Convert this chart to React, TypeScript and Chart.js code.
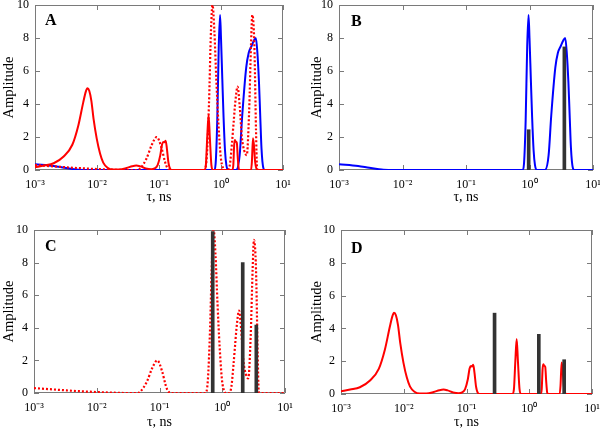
import React, { useEffect, useRef } from 'react';
import { Chart, registerables } from 'chart.js';

Chart.register(...registerables);

const FONT = '"Liberation Serif", "Times New Roman", serif';

// Red solid distribution (panels A, D)
const redSolidTau = [0.001, 0.0014, 0.002, 0.0029, 0.004, 0.005, 0.006, 0.0066, 0.007, 0.0075, 0.0081, 0.0088, 0.0099, 0.0112, 0.0126, 0.0148, 0.018, 0.023, 0.03, 0.037, 0.043, 0.05, 0.061, 0.075, 0.085, 0.095, 0.105, 0.112, 0.118, 0.123, 0.128, 0.134, 0.142, 0.152, 0.165, 0.54, 0.57, 0.6, 0.63, 0.66, 0.7, 0.74, 1.52, 1.58, 1.63, 1.67, 1.73, 1.8, 1.86, 1.93, 2.0, 3.05, 3.15, 3.28, 3.4, 3.55, 3.75, 3.9, 10];
const redSolidAmp = [0.16, 0.27, 0.41, 0.82, 1.53, 2.7, 4.1, 4.75, 4.95, 4.8, 4.2, 3.1, 1.9, 1.0, 0.45, 0.14, 0.03, 0.03, 0.12, 0.23, 0.27, 0.22, 0.1, 0.05, 0.1, 0.3, 0.9, 1.55, 1.7, 1.68, 1.78, 1.3, 0.45, 0.06, 0, 0, 0.3, 2.0, 3.35, 2.0, 0.3, 0, 0, 0.3, 1.5, 1.82, 1.72, 1.65, 0.8, 0.1, 0, 0, 0.5, 1.92, 1.5, 0.5, 0.05, 0, 0];

// Red dotted distribution (panels A, C)
const redDotTau = [0.001, 0.002, 0.0033, 0.006, 0.01, 0.018, 0.03, 0.045, 0.05, 0.063, 0.076, 0.092, 0.11, 0.125, 0.135, 0.15, 0.54, 0.59, 0.64, 0.69, 0.73, 0.78, 0.84, 0.91, 0.99, 1.08, 1.15, 1.3, 1.4, 1.5, 1.6, 1.7, 1.85, 2.0, 2.17, 2.36, 2.6, 2.84, 3.05, 3.2, 3.45, 3.67, 3.8, 3.9, 10];
const redDotAmp = [0.3, 0.22, 0.16, 0.1, 0.06, 0.02, 0, 0, 0.1, 0.7, 1.5, 2.0, 1.33, 0.5, 0.15, 0, 0, 0.8, 4.0, 8.5, 10, 8.5, 5.5, 2.8, 0.8, 0.1, 0, 0, 0.4, 1.6, 2.9, 4.1, 5.05, 3.9, 2.0, 1.2, 0.9, 3.5, 7.6, 9.4, 7.6, 2.4, 0.2, 0, 0];

// Blue distribution (panels A, B)
const blueTau = [0.001, 0.002, 0.003, 0.004, 0.005, 0.006, 0.78, 0.82, 0.87, 0.92, 0.965, 1.0, 1.05, 1.1, 1.16, 1.22, 1.3, 1.75, 2.0, 2.2, 2.55, 2.8, 3.1, 3.4, 3.65, 3.85, 4.1, 4.3, 4.5, 4.8, 5.1, 10];
const blueAmp = [0.35, 0.24, 0.13, 0.06, 0.01, 0, 0, 0.4, 3.0, 7.5, 9.4, 8.0, 5.5, 3.2, 1.2, 0.3, 0, 0, 0.9, 3.3, 6.2, 7.1, 7.5, 7.85, 8.0, 7.2, 5.3, 3.2, 1.3, 0.15, 0, 0];

// Discrete lifetimes (bars)
const barsBTau = [0.97, 3.54];
const barsBAmp = [2.44, 7.46];
const barsCTau = [0.705, 2.12, 3.49];
const barsCAmp = [9.9, 8.0, 4.17];
const barsDTau = [0.28, 1.42, 3.6];
const barsDAmp = [4.93, 3.64, 2.09];

const xTickText = ['10⁻³', '10⁻²', '10⁻¹', '10⁰', '10¹'];
const xTitle = 'τ, ns';
const yTitle = 'Amplitude';

const RED = '#ff0000';
const BLUE = '#0000ff';
const BAR = '#333333';
const FRAME = '#7a7a7a';

const pts = (t: number[], a: number[]) => t.map((x, i) => ({ x, y: a[i] }));

const redSolidDs = () => ({
  data: pts(redSolidTau, redSolidAmp), borderColor: RED, borderWidth: 2,
  cubicInterpolationMode: 'monotone', pointRadius: 0, fill: false, order: 2,
});
const redDotDs = () => ({
  data: pts(redDotTau, redDotAmp), borderColor: RED, borderWidth: 2.2, borderDash: [2, 2],
  cubicInterpolationMode: 'monotone', pointRadius: 0, fill: false, order: 2,
});
const blueDs = () => ({
  data: pts(blueTau, blueAmp), borderColor: BLUE, borderWidth: 2,
  cubicInterpolationMode: 'monotone', pointRadius: 0, fill: false, order: 2,
});
const barDs = (t: number[], a: number[]) => ({
  type: 'bar', data: pts(t, a), backgroundColor: BAR, barThickness: 3, order: 1,
});

const isPow10 = (v: number) => {
  const l = Math.log10(v);
  return Math.abs(l - Math.round(l)) < 1e-6;
};
const isIntMultiple = (v: number) => {
  const e = Math.floor(Math.log10(v) + 1e-9);
  const m = v / Math.pow(10, e);
  return Math.abs(m - Math.round(m)) < 1e-6;
};

const framePlugin = {
  id: 'panelFrame',
  beforeDatasetsDraw(chart: any) {
    const { ctx, chartArea, scales } = chart;
    const { left, right, top, bottom } = chartArea;
    ctx.save();
    ctx.strokeStyle = FRAME;
    ctx.lineWidth = 1;
    ctx.beginPath();
    ctx.rect(left + 0.5, top + 0.5, right - left - 1, bottom - top - 1);
    ctx.stroke();
    ctx.beginPath();
    for (const t of scales.x.ticks) {
      if (!isIntMultiple(t.value)) continue;
      const len = isPow10(t.value) ? 5 : 3;
      const px = Math.round(scales.x.getPixelForValue(t.value)) + 0.5;
      ctx.moveTo(px, bottom);
      ctx.lineTo(px, bottom - len);
      ctx.moveTo(px, top);
      ctx.lineTo(px, top + len);
    }
    for (const t of scales.y.ticks) {
      const len = t.value % 2 === 0 ? 5 : 3;
      const py = Math.round(scales.y.getPixelForValue(t.value)) + 0.5;
      ctx.moveTo(left, py);
      ctx.lineTo(left + len, py);
      ctx.moveTo(right, py);
      ctx.lineTo(right - len, py);
    }
    ctx.stroke();
    ctx.restore();
  },
};

const letterPlugin = {
  id: 'panelLetter',
  afterDatasetsDraw(chart: any, _args: any, opts: any) {
    const { ctx, chartArea } = chart;
    ctx.save();
    ctx.fillStyle = '#000';
    ctx.font = `bold 16px ${FONT}`;
    ctx.textBaseline = 'alphabetic';
    ctx.textAlign = 'left';
    ctx.fillText(opts.text, chartArea.left + opts.dx, chartArea.top + opts.dy);
    ctx.restore();
  },
};

type Spec = {
  letter: string; left: number; top: number; w: number; h: number;
  areaL: number; areaR: number; areaT: number; areaB: number;
  yTitlePad: number; xTitlePad: number; dx: number; dy: number;
  datasets: any[];
};

const specs: Spec[] = [
  { letter: 'A', left: 0, top: 0, w: 300, h: 215, areaL: 35, areaR: 283, areaT: 5, areaB: 170, yTitlePad: 0, xTitlePad: 9, dx: 10, dy: 20,
    datasets: [redSolidDs(), redDotDs(), blueDs()] },
  { letter: 'B', left: 300, top: 0, w: 300, h: 215, areaL: 39, areaR: 293, areaT: 5, areaB: 170, yTitlePad: 8, xTitlePad: 9, dx: 12, dy: 21,
    datasets: [blueDs(), barDs(barsBTau, barsBAmp)] },
  { letter: 'C', left: 0, top: 215, w: 300, h: 216, areaL: 34, areaR: 285, areaT: 15, areaB: 178, yTitlePad: 0, xTitlePad: 0, dx: 11, dy: 21,
    datasets: [redDotDs(), barDs(barsCTau, barsCAmp)] },
  { letter: 'D', left: 300, top: 215, w: 300, h: 216, areaL: 41, areaR: 292, areaT: 15, areaB: 179, yTitlePad: 8, xTitlePad: 0, dx: 10, dy: 23,
    datasets: [redSolidDs(), barDs(barsDTau, barsDAmp)] },
];

function makeConfig(p: Spec): any {
  return {
    type: 'line',
    data: { datasets: p.datasets },
    options: {
      animation: false,
      responsive: false,
      devicePixelRatio: 1,
      layout: { padding: { top: p.areaT, right: p.w - p.areaR, left: 0, bottom: 0 } },
      plugins: {
        legend: { display: false },
        tooltip: { enabled: false },
        panelLetter: { text: p.letter, dx: p.dx, dy: p.dy },
      },
      scales: {
        x: {
          type: 'logarithmic', min: 0.001, max: 10, offset: false,
          grid: { display: false, drawTicks: false, tickLength: 0 }, border: { display: false },
          ticks: {
            autoSkip: false, maxRotation: 0, minRotation: 0, padding: 8, color: '#000',
            font: { family: FONT, size: 12 },
            callback: (v: number) => (isPow10(v) ? xTickText[Math.round(Math.log10(v)) + 3] : null),
          },
          title: { display: true, text: xTitle, color: '#000', font: { family: FONT, size: 14 }, padding: { top: 0, bottom: p.xTitlePad } },
          afterFit: (s: any) => { s.height = p.h - p.areaB; s.paddingLeft = 0; s.paddingRight = 0; },
        },
        y: {
          type: 'linear', min: 0, max: 10,
          grid: { display: false, drawTicks: false, tickLength: 0 }, border: { display: false },
          ticks: {
            stepSize: 1, padding: 6, color: '#000', font: { family: FONT, size: 12 },
            callback: (v: number) => (v % 2 === 0 ? String(v) : ''),
          },
          title: { display: true, text: yTitle, color: '#000', font: { family: FONT, size: 14.5 }, padding: { top: p.yTitlePad, bottom: 0 } },
          afterFit: (s: any) => { s.width = p.areaL; s.paddingTop = 0; s.paddingBottom = 0; },
        },
      },
    },
    plugins: [framePlugin, letterPlugin],
  };
}

function Panel({ spec }: { spec: Spec }) {
  const ref = useRef<HTMLCanvasElement>(null);
  useEffect(() => {
    const chart = new Chart(ref.current as HTMLCanvasElement, makeConfig(spec));
    return () => chart.destroy();
  }, [spec]);
  return (
    <div style={{ position: 'absolute', left: spec.left, top: spec.top, width: spec.w, height: spec.h }}>
      <canvas ref={ref} width={spec.w} height={spec.h} style={{ display: 'block', width: spec.w, height: spec.h }} />
    </div>
  );
}

export default function App() {
  return (
    <div style={{ position: 'absolute', left: 0, top: 0, width: 600, height: 431, background: '#fff', overflow: 'hidden' }}>
      {specs.map((s) => (
        <Panel key={s.letter} spec={s} />
      ))}
    </div>
  );
}
